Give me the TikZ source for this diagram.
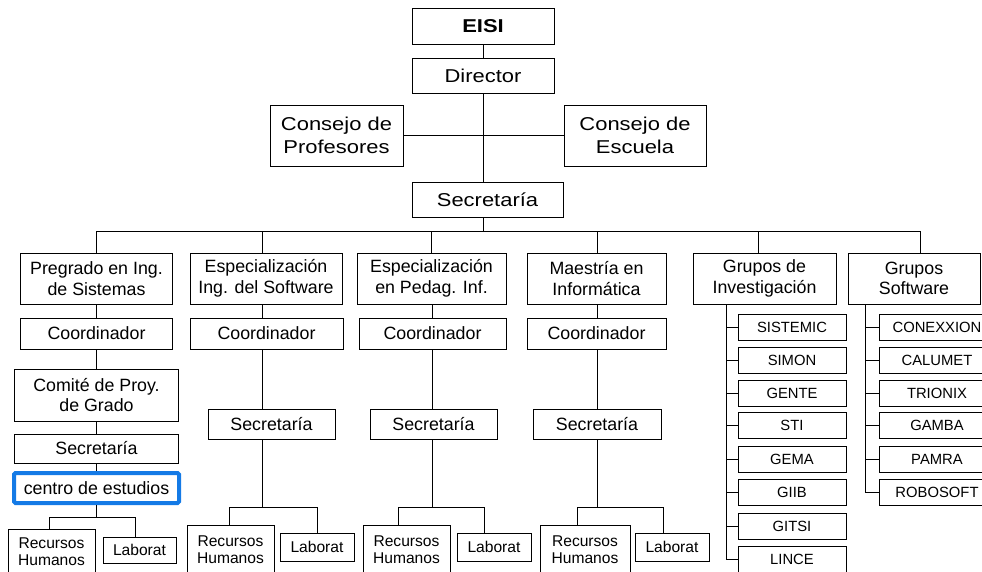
\documentclass[tikz,border=0pt]{standalone}
\usepackage{fontspec}
\setmainfont{Liberation Sans}
\newfontfamily\anchafont{Liberation Sans}[FakeStretch=1.18]
\usepackage{tikz}
\definecolor{azulsel}{RGB}{20,122,230}
\tikzset{cargo/.style={draw,rectangle,inner sep=0pt,align=center,text=black,line width=0.9pt},
alto/.style={cargo,font=\anchafont\fontsize{18.6}{23}\selectfont},
medio/.style={cargo,font=\fontsize{17.8}{20.5}\selectfont},
bajo/.style={cargo,font=\fontsize{15.6}{17}\selectfont},
grupo/.style={cargo,font=\fontsize{14.8}{16}\selectfont,minimum height=26}}
\tikzstyle{linea} = [line width=0.9pt]

\begin{document}
\begin{tikzpicture}[x=1pt,y=-1pt]
		\useasboundingbox (0,0) rectangle (982,572);
		\clip (0,0) rectangle (982,572);

		% direccion
		\begin{scope}[every node/.style={alto}]
			\node[minimum width=142,minimum height=36] (eisi) at (483,26) {\bfseries EISI};
			\node[minimum width=142,minimum height=35] (dir) at (483,75.5) {Director};
			\node[minimum width=133,minimum height=61] (cprof) at (336.5,135.5) {Consejo de\\Profesores};
			\node[minimum width=142,minimum height=61] (cesc) at (635,135.5) {Consejo de\\Escuela};
			\node[minimum width=151,minimum height=35] (sec) at (487.5,199.5) {Secretaría};
		\end{scope}

		% programas
		\begin{scope}[every node/.style={medio}]
			\node[minimum width=152,minimum height=51] (p1) at (96.5,278.5) {Pregrado en Ing.\\de Sistemas};
			\node[minimum width=152,minimum height=51] (p2) at (266,278.5) {Especialización\\Ing. del Software};
			\node[minimum width=149,minimum height=51] (p3) at (431.5,278.5) {Especialización\\en Pedag. Inf.};
			\node[minimum width=139,minimum height=51] (p4) at (596.5,278.5) {Maestría en\\Informática};
			\node[minimum width=143,minimum height=51] (p5) at (764.5,278.5) {Grupos de\\Investigación};
			\node[minimum width=132,minimum height=51] (p6) at (914,278.5) {Grupos\\Software};

			\node[minimum width=152,minimum height=31] (k1) at (96.5,333.5) {Coordinador};
			\node[minimum width=153,minimum height=31] (k2) at (266.5,333.5) {Coordinador};
			\node[minimum width=147,minimum height=31] (k3) at (432.5,333.5) {Coordinador};
			\node[minimum width=139,minimum height=31] (k4) at (596.5,333.5) {Coordinador};

			\node[minimum width=164,minimum height=52] (comite) at (96.5,395) {Comité de Proy.\\de Grado};
			\node[minimum width=164,minimum height=29] (s1) at (96.5,448.5) {Secretaría};
			\node[minimum width=165,minimum height=30,draw=azulsel,line width=4pt,rounded corners=1.5pt] (centro) at (96.5,488) {centro de estudios};
			\node[minimum width=127,minimum height=30] (s2) at (271.5,424) {Secretaría};
			\node[minimum width=127,minimum height=30] (s3) at (433.5,424) {Secretaría};
			\node[minimum width=128,minimum height=30] (s4) at (597,424) {Secretaría};
		\end{scope}

		% recursos y laboratorios
		\begin{scope}[every node/.style={bajo}]
			\node[minimum width=87,minimum height=45] (r1) at (51.5,551.5) {Recursos\\Humanos};
			\node[minimum width=73,minimum height=26] (l1) at (139.5,550) {Laborat};
			\node[minimum width=87,minimum height=49] (r2) at (230.5,549.5) {Recursos\\Humanos};
			\node[minimum width=74,minimum height=28] (l2) at (317,547) {Laborat};
			\node[minimum width=87,minimum height=49] (r3) at (406.5,549.5) {Recursos\\Humanos};
			\node[minimum width=74,minimum height=28] (l3) at (494,547) {Laborat};
			\node[minimum width=90,minimum height=49] (r4) at (585,549.5) {Recursos\\Humanos};
			\node[minimum width=74,minimum height=28] (l4) at (672,547) {Laborat};
		\end{scope}

		% grupos
		\begin{scope}[every node/.style={grupo,minimum width=108}]
			\node (gi1) at (792,327) {SISTEMIC};
			\node (gi2) at (792,360) {SIMON};
			\node (gi3) at (792,393) {GENTE};
			\node (gi4) at (792,425.5) {STI};
			\node (gi5) at (792,459) {GEMA};
			\node (gi6) at (792,492) {GIIB};
			\node (gi7) at (792,526) {GITSI};
			\node (gi8) at (792,559) {LINCE};
		\end{scope}
		\begin{scope}[every node/.style={grupo,minimum width=116}]
			\node (gs1) at (937,327) {CONEXXION};
			\node (gs2) at (937,360) {CALUMET};
			\node (gs3) at (937,393) {TRIONIX};
			\node (gs4) at (937,425.5) {GAMBA};
			\node (gs5) at (937,459) {PAMRA};
			\node (gs6) at (937,492) {ROBOSOFT};
		\end{scope}

		% puntos de paso
		\coordinate (t1) at (96.5,231);
		\coordinate (t2) at (262.5,231);
		\coordinate (t3) at (431.5,231);
		\coordinate (t4) at (597.5,231);
		\coordinate (t5) at (758.5,231);
		\coordinate (t6) at (920.5,231);
		\coordinate (v2) at (262.5,0);
		\coordinate (v3) at (432.5,0);
		\coordinate (v4) at (597.5,0);
		\coordinate (v5) at (726,0);
		\coordinate (v6) at (865,0);
		\coordinate (fa1) at (49,517);  \coordinate (fb1) at (135,517);
		\coordinate (fa2) at (229,507); \coordinate (fb2) at (317,507);
		\coordinate (fa3) at (398,507); \coordinate (fb3) at (484,507);
		\coordinate (fa4) at (577,507); \coordinate (fb4) at (663,507);

		\begin{scope}[linea]
			\draw (eisi) -- (dir);
			\draw (dir.south) -- (dir.south |- sec.north);
			\draw (cprof) -- (cesc);
			\draw (dir.south |- sec.south) -- (dir.south |- t1);
			\draw (t1) -- (t6);
			\foreach \i in {1,...,6}
				\draw (t\i) -- (t\i |- p\i.north);

			\path (p1) edge (k1);
			\path (k1) edge (comite);
			\path (comite) edge (s1);
			\path (s1) edge (centro);
			\draw (centro.south) -- (centro.south |- fa1);
			\draw (fa1 |- r1.north) |- (fb1) -- (fb1 |- l1.north);

			\foreach \c in {2,3,4} {
				\draw (v\c |- p\c.south) -- (v\c |- k\c.north);
				\draw (v\c |- k\c.south) -- (v\c |- s\c.north);
				\draw (v\c |- s\c.south) -- (v\c |- fa\c);
				\draw (fa\c |- r\c.north) |- (fb\c) -- (fb\c |- l\c.north);
			}

			\draw (v5 |- p5.south) |- (gi8.west);
			\foreach \i in {1,...,7}
				\draw (v5 |- gi\i.west) -- (gi\i.west);
			\draw (v6 |- p6.south) |- (gs6.west);
			\foreach \i in {1,...,5}
				\draw (v6 |- gs\i.west) -- (gs\i.west);
		\end{scope}
	\end{tikzpicture}
\end{document}
